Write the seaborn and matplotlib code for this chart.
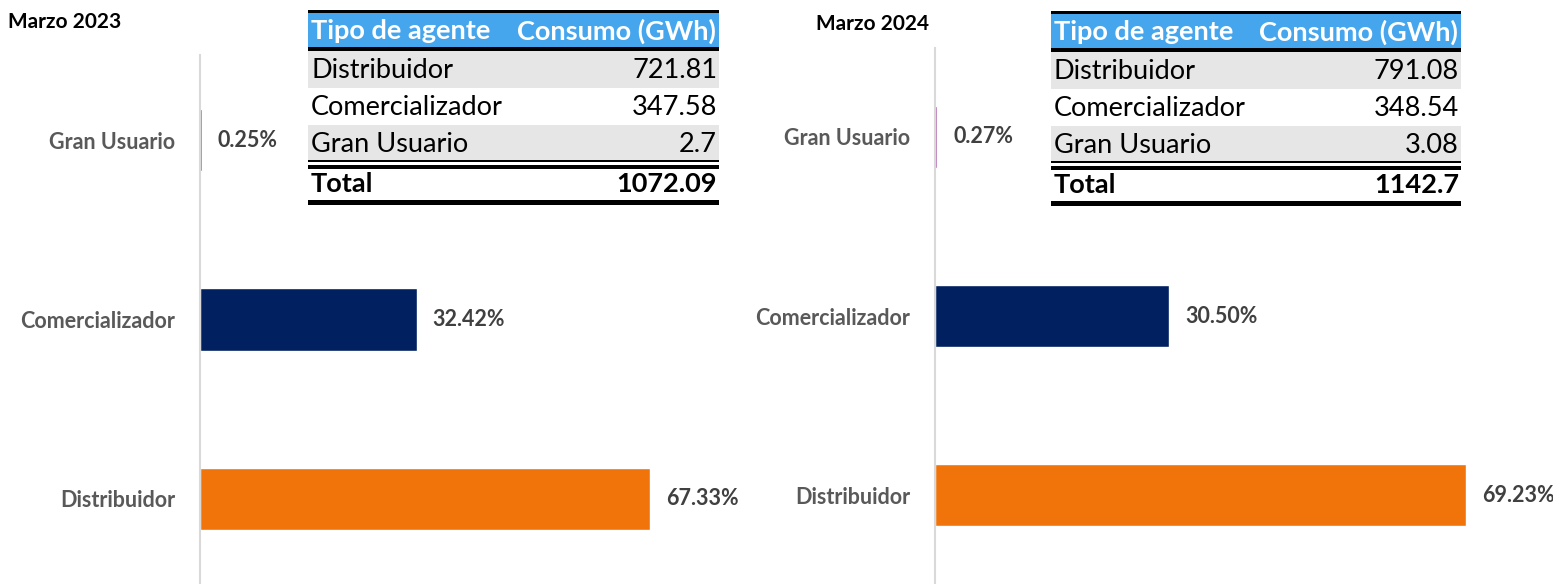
import matplotlib.pyplot as plt
import pandas as pd
import seaborn as sns
from matplotlib.patches import Rectangle

sns.set_theme(style="white")
plt.rcParams["font.family"] = ["Lato", "DejaVu Sans"]

# Data
agents = ["Distribuidor", "Comercializador", "Gran Usuario"]
bar_order = ["Gran Usuario", "Comercializador", "Distribuidor"]
consumo_2023 = [721.81, 347.58, 2.7]
total_2023 = "1072.09"
pct_2023 = [67.33, 32.42, 0.25]
consumo_2024 = [791.08, 348.54, 3.08]
total_2024 = "1142.7"
pct_2024 = [69.23, 30.50, 0.27]
titles = ["Marzo 2023", "Marzo 2024"]
colors = {"Distribuidor": "#F07409", "Comercializador": "#002060", "Gran Usuario": "#A040A0"}

W, H = 1553, 584
fig = plt.figure(figsize=(W / 100, H / 100), dpi=100)

# overlay axes in pixel coordinates for titles and tables
ov = fig.add_axes([0, 0, 1, 1], zorder=5)
ov.set_xlim(0, W)
ov.set_ylim(H, 0)
ov.axis("off")
ov.patch.set_alpha(0)


def bar_panel(rect, xmax, ylim, pct):
    ax = fig.add_axes(rect)
    df = pd.DataFrame({"Agente": agents, "Pct": pct})
    sns.barplot(data=df, y="Agente", x="Pct", hue="Agente", order=bar_order,
                palette=colors, saturation=1, width=0.35, legend=False, ax=ax, orient="h")
    ax.set_xlim(0, xmax)
    ax.set_ylim(*ylim)
    for s in ["top", "right", "bottom"]:
        ax.spines[s].set_visible(False)
    ax.spines["left"].set_color("#D9D9D9")
    ax.spines["left"].set_linewidth(1.5)
    ax.set_xticks([])
    ax.set_xlabel("")
    ax.set_ylabel("")
    ax.tick_params(axis="y", length=0, pad=18)
    for lab in ax.get_yticklabels():
        lab.set_fontsize(15.5)
        lab.set_fontweight("bold")
        lab.set_color("#595959")
    d = dict(zip(agents, pct))
    for i, name in enumerate(bar_order):
        ax.annotate(f"{d[name]:.2f}%", xy=(d[name], i), xytext=(11.5, 0),
                    textcoords="offset points", ha="left", va="center",
                    fontsize=15.5, fontweight="bold", color="#404040")
    return ax


def px_rect(l, t, r, b):
    return [l / W, 1 - b / H, (r - l) / W, (b - t) / H]


bar_panel(px_rect(200, 55, 720, 584), 520 / 6.68, (2.474, -0.474), pct_2023)
bar_panel(px_rect(935, 48, 1545, 584), 610 / 7.67, (2.497, -0.497), pct_2024)

FS = 19.5


def table(x0, x1, y0, vals, total):
    # y0 = top of header
    ov.add_patch(Rectangle((x0, y0 - 2), x1 - x0, 3, color="black", lw=0))
    ov.add_patch(Rectangle((x0, y0 + 1), x1 - x0, 34, color="#45A6EE", lw=0))
    ov.add_patch(Rectangle((x0, y0 + 35), x1 - x0, 4, color="black", lw=0))
    ov.text(x0 + 3, y0 + 19, "Tipo de agente", fontsize=FS, fontweight="bold",
            color="white", ha="left", va="center")
    ov.text(x1 - 3, y0 + 19, "Consumo (GWh)", fontsize=FS, fontweight="bold",
            color="white", ha="right", va="center")
    top = y0 + 39
    rh = 37
    fills = ["#E7E6E6", "white", "#E7E6E6"]
    for k, (name, v) in enumerate(zip(agents, vals)):
        t = top + k * rh
        ov.add_patch(Rectangle((x0, t), x1 - x0, rh, color=fills[k], lw=0))
        ov.text(x0 + 3, t + rh / 2 + 1, name, fontsize=FS, color="black",
                ha="left", va="center")
        ov.text(x1 - 2, t + rh / 2 + 1, f"{v:g}", fontsize=FS, color="black",
                ha="right", va="center")
    yb = top + 3 * rh
    ov.add_patch(Rectangle((x0, yb - 2), x1 - x0, 2, color="black", lw=0))
    ov.add_patch(Rectangle((x0, yb + 3), x1 - x0, 4, color="black", lw=0))
    ov.text(x0 + 3, yb + 22, "Total", fontsize=FS, fontweight="bold",
            color="black", ha="left", va="center")
    ov.text(x1 - 2, yb + 22, total, fontsize=FS, fontweight="bold",
            color="black", ha="right", va="center")
    ov.add_patch(Rectangle((x0, yb + 38), x1 - x0, 5, color="black", lw=0))


table(308, 719, 12, consumo_2023, total_2023)
table(1051, 1461, 13, consumo_2024, total_2024)

ov.text(8, 22, titles[0], fontsize=15, fontweight="bold", color="black",
        ha="left", va="center")
ov.text(816, 24, titles[1], fontsize=15, fontweight="bold", color="black",
        ha="left", va="center")

fig.savefig("out.png", dpi=100)
